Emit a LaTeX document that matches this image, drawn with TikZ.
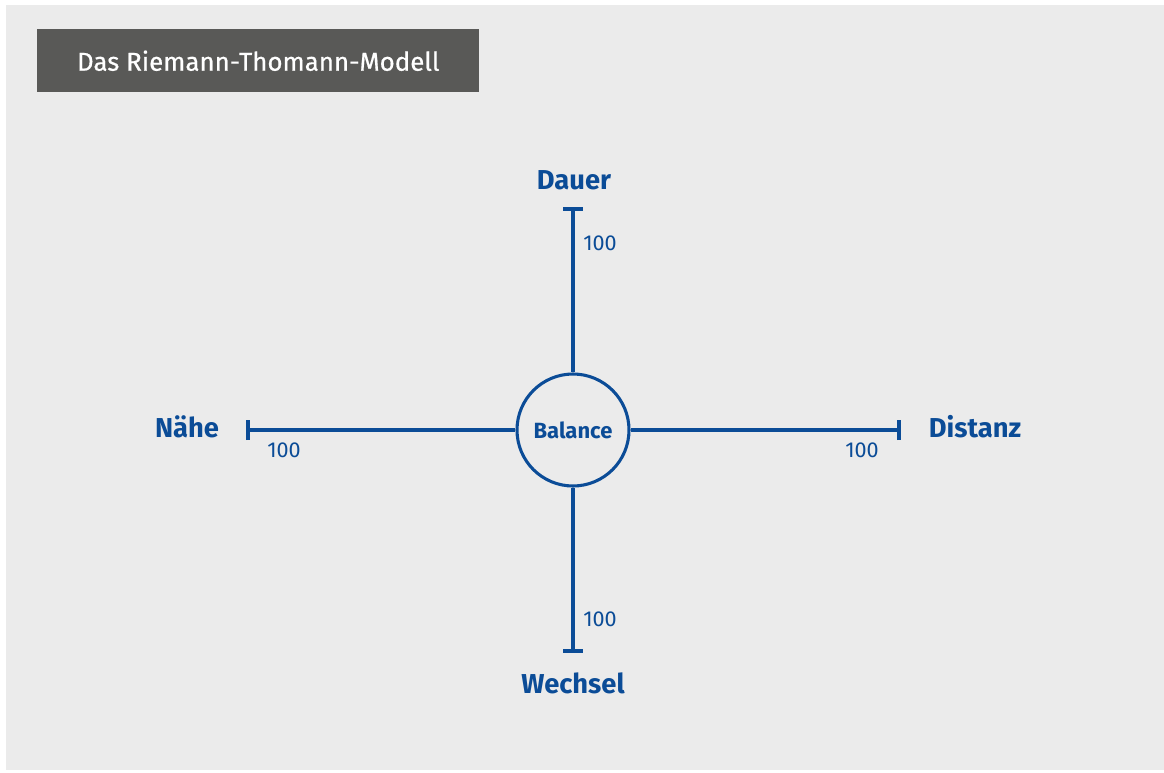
\documentclass[tikz,border=0pt]{standalone}
\usepackage{fontspec}
\setmainfont{Fira Sans}
\newfontfamily\headfont[FakeBold=0.6]{Fira Sans}
\definecolor{rtblue}{HTML}{0B4C97}
\definecolor{rtbg}{HTML}{EBEBEB}
\definecolor{rthead}{HTML}{595957}
\begin{document}
\begin{tikzpicture}[x=0.75pt,y=-0.75pt,
  axis/.style={draw=rtblue,line width=2.3pt},
  endtick/.style={draw=rtblue,line width=2.3pt},
  pole/.style={text=rtblue,font=\fontsize{20.5}{24}\selectfont\bfseries,anchor=base,inner sep=0pt},
  num/.style={text=rtblue,font=\fontsize{16.2}{19}\selectfont,anchor=base,inner sep=0pt},
  center/.style={circle,draw=rtblue,line width=2.3pt,minimum size=112*0.75pt,inner sep=0pt,text=rtblue,font=\fontsize{16.5}{20}\selectfont\bfseries}]
\useasboundingbox (0,0) rectangle (1164,772);
\fill[white] (0,0) rectangle (1164,772);
\fill[rtbg] (6,5) rectangle (1164,770);
\node[fill=rthead,minimum width=442*0.75pt,minimum height=63*0.75pt,inner sep=0pt,anchor=north west,text=white,font=\headfont\fontsize{19.4}{24}\selectfont] (head) at (37,29) {Das Riemann-Thomann-Modell};
\node[center] (bal) at (573,430) {\raisebox{-1pt}{Balance}};
\coordinate (top) at (573,209);
\coordinate (bot) at (573,651);
\coordinate (lft) at (248,430);
\coordinate (rgt) at (899,430);
\draw[axis] (bal.north) -- (top);
\draw[axis] (bal.south) -- (bot);
\draw[axis] (bal.west) -- (lft);
\draw[axis] (bal.east) -- (rgt);
\draw[endtick] ([xshift=-7.5pt]top) -- ([xshift=7.5pt]top);
\draw[endtick] ([xshift=-7.5pt]bot) -- ([xshift=7.5pt]bot);
\draw[endtick] ([yshift=-7.5pt]lft) -- ([yshift=7.5pt]lft);
\draw[endtick] ([yshift=-7.5pt]rgt) -- ([yshift=7.5pt]rgt);
\node[pole] (dauer) at (574,189) {Dauer};
\node[pole] (wechsel) at (573,693) {Wechsel};
\node[pole] (naehe) at (187,437) {Nähe};
\node[pole] (distanz) at (975,437) {Distanz};
\node[num,anchor=base west] (ntop) at (583,250) {100};
\node[num,anchor=base west] (nbot) at (583,626) {100};
\node[num] (nlft) at (284,457) {100};
\node[num] (nrgt) at (862,457) {100};
\end{tikzpicture}
\end{document}
